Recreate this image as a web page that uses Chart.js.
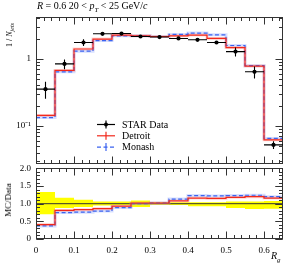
<!DOCTYPE html>
<html>
<head>
<meta charset="utf-8">
<script src="https://cdn.jsdelivr.net/npm/chart.js@4.4.0/dist/chart.umd.min.js"></script>
<style>
  body { margin: 0; background: #fff; width: 291px; height: 263px; overflow: hidden; position: relative; font-family: "Liberation Serif", serif; }
  .box { position: absolute; left: 0; }
  .lbl { position: absolute; color: #000; white-space: nowrap; font-family: "Liberation Serif", serif; z-index: 5; }
  .rot { transform: translate(-50%, -50%) rotate(-90deg); }
  i { font-style: italic; }
</style>
</head>
<body>
<div class="box" style="top:0;width:291px;height:175px"><canvas id="cMain" width="291" height="175"></canvas></div>
<div class="box" style="top:158px;width:291px;height:105px"><canvas id="cRatio" width="291" height="105"></canvas></div>

<div class="lbl" style="left:37px;top:0px;font-size:10px"><i>R</i> = 0.6 20 &lt; <i>p</i><sub style="font-size:7px;font-style:italic">T</sub> &lt; 25 GeV/<i>c</i></div>
<div class="lbl rot" style="left:10px;top:35px;font-size:8px">1 / <i>N</i><sub style="font-size:6px"><i>jets</i></sub></div>
<div class="lbl rot" style="left:8px;top:200px;font-size:9px">MC/Data</div>
<div class="lbl" style="left:271px;top:250px;font-size:10px"><i>R</i><sub style="font-size:7px"><i>g</i></sub></div>

<script>
// bins in R_g
const binLo = [0, 0.05, 0.1, 0.15, 0.2, 0.25, 0.3, 0.35, 0.4, 0.45, 0.5, 0.55, 0.6];
const binHi = [0.05, 0.1, 0.15, 0.2, 0.25, 0.3, 0.35, 0.4, 0.45, 0.5, 0.55, 0.6, 0.65];
const binMid = [0.025, 0.075, 0.125, 0.175, 0.225, 0.275, 0.325, 0.375, 0.425, 0.475, 0.525, 0.575, 0.625];

// 1/N_jets
const starData = [0.353, 0.84, 1.75, 2.36, 2.38, 2.15, 2.11, 2.01, 1.92, 1.75, 1.28, 0.64, 0.052];
const starErr  = [0.10, 0.14, 0.20, 0.10, 0.08, 0.10, 0.05, 0.06, 0.06, 0.07, 0.20, 0.13, 0.007];
const detroit  = [0.143, 0.67, 1.40, 1.97, 2.26, 2.20, 2.15, 2.20, 2.26, 2.01, 1.47, 0.78, 0.062];
const monash   = [0.133, 0.64, 1.30, 1.87, 2.20, 2.20, 2.15, 2.31, 2.42, 2.28, 1.58, 0.79, 0.065];

// MC/Data
const detroitRatio = [0.41, 0.81, 0.83, 0.86, 0.93, 1.02, 1.02, 1.08, 1.16, 1.15, 1.18, 1.20, 1.16];
const monashRatio  = [0.37, 0.75, 0.76, 0.79, 0.89, 1.00, 1.02, 1.13, 1.23, 1.22, 1.23, 1.24, 1.20];
const bandHi = [1.33, 1.17, 1.11, 1.06, 1.06, 1.09, 1.04, 1.04, 1.04, 1.04, 1.06, 1.06, 1.08];
const bandLo = [0.70, 0.88, 0.91, 0.95, 0.96, 0.91, 0.97, 0.96, 0.93, 0.93, 0.88, 0.85, 0.86];

// tick labels
const xTickVals = [0, 0.1, 0.2, 0.3, 0.4, 0.5, 0.6];
const mainTickVals = [0.1, 1];
const ratioTickVals = [0, 0.5, 1, 1.5, 2];

const RED = '#f2281c', BLUE = '#3b63f0';
const FONT = { family: 'Liberation Serif', size: 9 };

// histogram as step line (left edges + final right edge)
function steps(vals) {
    const pts = binLo.map((x, i) => ({ x: x, y: vals[i] }));
    pts.push({ x: binHi[binHi.length - 1], y: vals[vals.length - 1] });
    return pts;
}

function histo(vals, color, dash, width) {
    return { data: steps(vals), borderColor: color, borderWidth: width, borderDash: dash,
             stepped: 'before', pointRadius: 0, fill: false };
}

// inward frame ticks, ROOT/rivet style
function tickList(lo, hi, step) {
    const out = [];
    for (let v = lo; v <= hi + 1e-9; v += step) out.push(+v.toFixed(4));
    return out;
}
const xMinor = tickList(0, 0.64, 0.02);
const ratioMinor = tickList(0, 2, 0.1);
const mainMinor = [];
[0.01, 0.1, 1].forEach(d => { for (let k = 2; k <= 9; k++) mainMinor.push(d * k); });

function framePlugin(yMajor, yMinor) {
    return {
        id: 'frame',
        afterDatasetsDraw(chart) {
            const { ctx, chartArea: a, scales } = chart;
            const L = Math.round(a.left) + 0.5, R = Math.round(a.right) - 0.5;
            const T = Math.round(a.top) + 0.5, B = Math.round(a.bottom) - 0.5;
            ctx.save();
            ctx.strokeStyle = '#333';
            ctx.lineWidth = 1;
            ctx.strokeRect(L, T, R - L, B - T);
            ctx.beginPath();
            xMinor.forEach(v => {
                const px = Math.round(scales.x.getPixelForValue(v)) + 0.5;
                const len = xTickVals.some(t => Math.abs(t - v) < 1e-6) ? 7 : 3.5;
                ctx.moveTo(px, B); ctx.lineTo(px, B - len);
                ctx.moveTo(px, T); ctx.lineTo(px, T + len);
            });
            const ys = scales.y;
            yMinor.concat(yMajor).forEach(v => {
                if (v < ys.min || v > ys.max) return;
                const py = Math.round(ys.getPixelForValue(v)) + 0.5;
                const len = yMajor.includes(v) ? 7 : 3.5;
                ctx.moveTo(L, py); ctx.lineTo(L + len, py);
                ctx.moveTo(R, py); ctx.lineTo(R - len, py);
            });
            ctx.stroke();
            ctx.restore();
        }
    };
}

// STAR error bars
const errPlugin = {
    id: 'errbars',
    afterDatasetsDraw(chart) {
        const { ctx, scales: { x, y } } = chart;
        ctx.save();
        ctx.strokeStyle = '#000';
        ctx.lineWidth = 1.1;
        ctx.beginPath();
        starData.forEach((v, i) => {
            const py = y.getPixelForValue(v);
            ctx.moveTo(x.getPixelForValue(binLo[i]), py);
            ctx.lineTo(x.getPixelForValue(binHi[i]), py);
            const cx = x.getPixelForValue(binMid[i]);
            ctx.moveTo(cx, y.getPixelForValue(v + starErr[i]));
            ctx.lineTo(cx, y.getPixelForValue(Math.max(v - starErr[i], 1e-4)));
        });
        ctx.stroke();
        ctx.restore();
    }
};

// legend inside the main panel
const legendItems = [
    { text: 'STAR Data', color: '#000', dash: [], dot: true },
    { text: 'Detroit', color: RED, dash: [] },
    { text: 'Monash', color: BLUE, dash: [4, 2.5] }
];
const legendPlugin = {
    id: 'leg',
    afterDraw(chart) {
        const ctx = chart.ctx;
        ctx.save();
        legendItems.forEach((it, i) => {
            const y = 124.5 + i * 11.3;
            ctx.strokeStyle = it.color;
            ctx.lineWidth = 1.2;
            ctx.setLineDash(it.dash);
            ctx.beginPath(); ctx.moveTo(97, y); ctx.lineTo(115, y); ctx.stroke();
            ctx.setLineDash([]);
            ctx.beginPath(); ctx.moveTo(106, y - 4); ctx.lineTo(106, y + 4); ctx.stroke();
            if (it.dot) { ctx.fillStyle = '#000'; ctx.beginPath(); ctx.arc(106, y, 2, 0, 2 * Math.PI); ctx.fill(); }
            ctx.fillStyle = '#000';
            ctx.font = '10px "Liberation Serif"';
            ctx.textBaseline = 'middle';
            ctx.fillText(it.text, 122, y + 0.5);
        });
        ctx.restore();
    }
};

const mainChart = new Chart(document.getElementById('cMain'), {
    type: 'line',
    data: {
        datasets: [
            { type: 'scatter', data: binMid.map((x, i) => ({ x: x, y: starData[i] })),
              pointRadius: 2.1, pointBackgroundColor: '#000', pointBorderWidth: 0, showLine: false },
            histo(detroit, RED, [], 1.2),
            histo(monash, BLUE, [4, 2.5], 1.2),
            histo(detroit, 'rgba(255,120,110,0.3)', [], 3),
            histo(monash, 'rgba(120,150,255,0.3)', [], 3)
        ]
    },
    options: {
        responsive: false, animation: false,
        layout: { padding: { left: 0, top: 17, right: 8, bottom: 11 } },
        plugins: { legend: { display: false }, tooltip: { enabled: false } },
        scales: {
            x: { type: 'linear', min: 0, max: 0.65, display: false },
            y: {
                type: 'logarithmic', min: 0.027, max: 4.2,
                grid: { display: false, drawTicks: false }, border: { display: false },
                afterFit: s => { s.width = 36; },
                afterBuildTicks: s => { s.ticks = mainTickVals.map(v => ({ value: v })); },
                ticks: { padding: 5, color: '#000', font: FONT, callback: v => v === 1 ? '1' : '10⁻¹' }
            }
        }
    },
    plugins: [framePlugin(mainTickVals, mainMinor), errPlugin, legendPlugin]
});

const ratioChart = new Chart(document.getElementById('cRatio'), {
    type: 'line',
    data: {
        datasets: [
            histo(detroitRatio, RED, [], 1.2),
            histo(monashRatio, BLUE, [4, 2.5], 1.2),
            histo(detroitRatio, 'rgba(255,120,110,0.3)', [], 3),
            histo(monashRatio, 'rgba(120,150,255,0.3)', [], 3),
            { data: [{ x: 0, y: 1 }, { x: 0.65, y: 1 }], borderColor: '#333', borderWidth: 1, pointRadius: 0, fill: false },
            { data: steps(bandLo), borderWidth: 0, borderColor: 'rgba(0,0,0,0)', stepped: 'before', pointRadius: 0, fill: false },
            { data: steps(bandHi), borderWidth: 0, borderColor: 'rgba(0,0,0,0)', stepped: 'before', pointRadius: 0,
              fill: '-1', backgroundColor: '#ffff00' }
        ]
    },
    options: {
        responsive: false, animation: false,
        layout: { padding: { left: 0, top: 6, right: 8, bottom: 0 } },
        plugins: { legend: { display: false }, tooltip: { enabled: false } },
        scales: {
            x: {
                type: 'linear', min: 0, max: 0.65,
                grid: { display: false, drawTicks: false }, border: { display: false },
                afterFit: s => { s.height = 24; },
                afterBuildTicks: s => { s.ticks = xTickVals.map(v => ({ value: v })); },
                ticks: { padding: 6, color: '#000', font: FONT, maxRotation: 0, callback: v => String(+v.toFixed(1)) }
            },
            y: {
                type: 'linear', min: 0, max: 2,
                grid: { display: false, drawTicks: false }, border: { display: false },
                afterFit: s => { s.width = 36; },
                afterBuildTicks: s => { s.ticks = ratioTickVals.map(v => ({ value: v })); },
                ticks: { padding: 5, color: '#000', font: FONT }
            }
        }
    },
    plugins: [framePlugin(ratioTickVals, ratioMinor)]
});
</script>
</body>
</html>
